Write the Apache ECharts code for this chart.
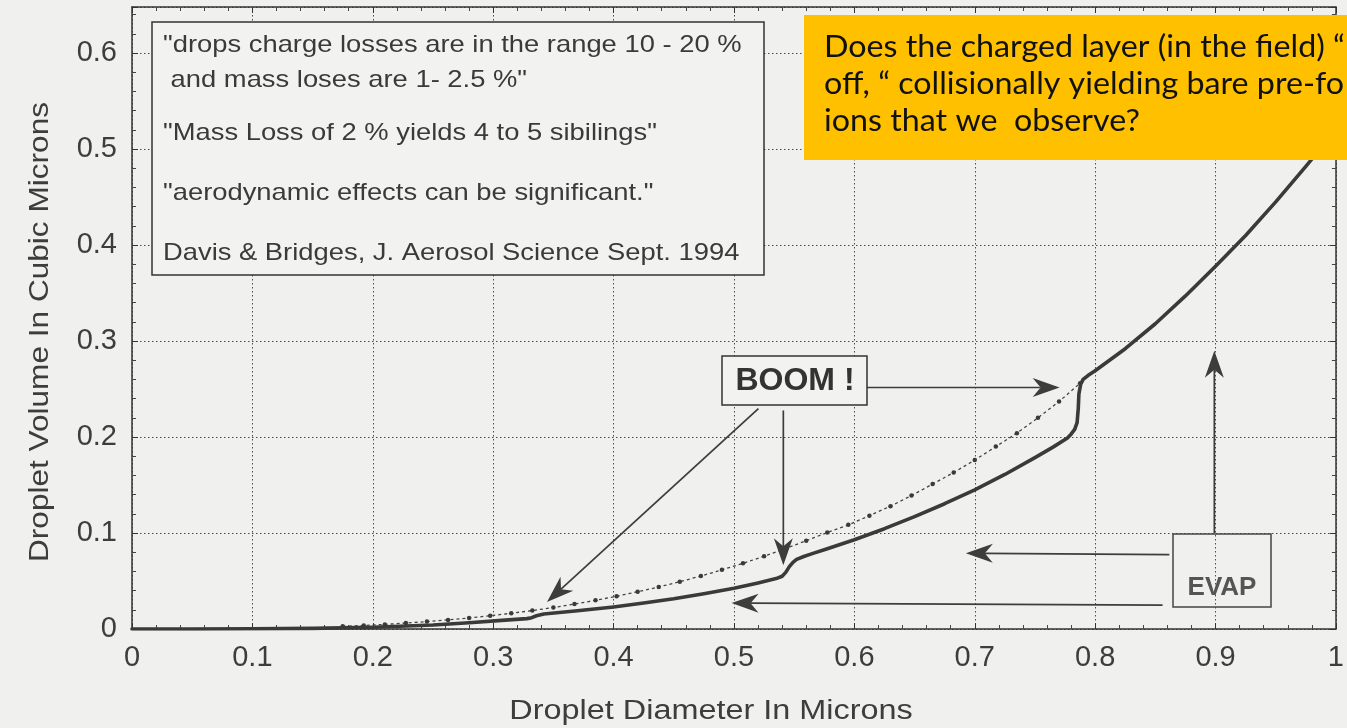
<!DOCTYPE html>
<html>
<head>
<meta charset="utf-8">
<script src="https://cdn.jsdelivr.net/npm/echarts@6/dist/echarts.min.js"></script>
<style>
html,body{margin:0;padding:0;background:#f0f0ee;}
#chart{width:1347px;height:728px;}
</style>
</head>
<body>
<div id="chart"></div>
<script>
// ---- data ----
const xTicks = [0, 0.1, 0.2, 0.3, 0.4, 0.5, 0.6, 0.7, 0.8, 0.9, 1];
const yTicks = [0, 0.1, 0.2, 0.3, 0.4, 0.5, 0.6];

// upper dotted curve (no-fission reference), diameter / volume
const dotD = [0.175, 0.1925, 0.21, 0.2275, 0.245, 0.2625, 0.28, 0.2975, 0.315, 0.3325, 0.35, 0.3675, 0.385, 0.4025, 0.42, 0.4375, 0.455, 0.4725, 0.49, 0.5075, 0.525, 0.5425, 0.56, 0.5775, 0.595, 0.6125, 0.63, 0.6475, 0.665, 0.6825, 0.70, 0.7175, 0.735, 0.7525, 0.77, 0.7875];
const dotV = [0.0028, 0.0037, 0.0048, 0.0062, 0.0077, 0.0095, 0.0115, 0.0138, 0.0164, 0.0192, 0.0224, 0.0260, 0.0299, 0.0341, 0.0388, 0.0438, 0.0493, 0.0552, 0.0616, 0.0684, 0.0758, 0.0836, 0.0920, 0.1005, 0.1085, 0.1180, 0.1280, 0.1390, 0.1510, 0.1630, 0.1760, 0.1900, 0.2040, 0.2200, 0.2370, 0.2560];

// solid curve with fission jumps
const solidD = [0, 0.05, 0.1, 0.15, 0.2, 0.25, 0.28, 0.31, 0.328, 0.332, 0.336, 0.342, 0.355, 0.37, 0.40, 0.425, 0.45, 0.475, 0.50, 0.52, 0.535, 0.540, 0.543, 0.546, 0.549, 0.552, 0.558, 0.565, 0.575, 0.60, 0.625, 0.65, 0.675, 0.70, 0.725, 0.75, 0.765, 0.777, 0.780, 0.783, 0.785, 0.786, 0.7865, 0.788, 0.790, 0.794, 0.80, 0.825, 0.85, 0.875, 0.90, 0.925, 0.95, 0.975, 1.0];
const solidV = [0, 0.0000, 0.0002, 0.0007, 0.0018, 0.0042, 0.0065, 0.0092, 0.0108, 0.0118, 0.0138, 0.0156, 0.0172, 0.0190, 0.0230, 0.0270, 0.0315, 0.0368, 0.0425, 0.0480, 0.0525, 0.0550, 0.0590, 0.0650, 0.0695, 0.0725, 0.0755, 0.0785, 0.0825, 0.0930, 0.1045, 0.1170, 0.1305, 0.1450, 0.1610, 0.1785, 0.1895, 0.1990, 0.2030, 0.2080, 0.2150, 0.2300, 0.2450, 0.2550, 0.2600, 0.2640, 0.2690, 0.2920, 0.3180, 0.3470, 0.3780, 0.4100, 0.4450, 0.4820, 0.5200];

// annotation arrows in data space: from (d,v) to tip (d,v)
const arrowFromD = [0.603, 0.541, 0.5203, 0.899, 0.8616, 0.856];
const arrowFromV = [0.2516, 0.2277, 0.2297, 0.0998, 0.0775, 0.0249];
const arrowToD   = [0.7705, 0.541, 0.3447, 0.899, 0.6926, 0.498];
const arrowToV   = [0.2516, 0.0665, 0.0281, 0.2900, 0.0790, 0.0270];

const quoteLines = [
  '"drops charge losses are in the range 10 - 20 %',
  ' and mass loses are 1- 2.5 %"',
  '"Mass Loss of 2 % yields 4 to 5 sibilings"',
  '"aerodynamic effects can be significant."',
  'Davis & Bridges, J. Aerosol Science Sept. 1994'
];
const questionLines = [
  'Does the charged layer (in the field) \u201c',
  'off, \u201c collisionally yielding bare pre-fo',
  'ions that we  observe?'
];

// ---- build ----
const FONT = 'Liberation Sans, Arial, sans-serif';
const BG = '#f0f0ee';
const INK = '#3a3a3a';
const dotData = dotD.map((d, i) => [d, dotV[i]]);
const solidData = solidD.map((d, i) => [d, solidV[i]]);
const arrowData = arrowFromD.map((d, i) => [d, arrowFromV[i], arrowToD[i], arrowToV[i]]);

const chart = echarts.init(document.getElementById('chart'), null, {renderer: 'canvas'});

const gridLine = {show: true, lineStyle: {color: '#4a4a4a', width: 1, type: [1.5, 2.5]}};
const border = {show: true, onZero: false, lineStyle: {color: '#333', width: 1.5}};
const yFmt = v => {
  const k = Math.round(v * 10);
  if (Math.abs(v * 10 - k) > 1e-6) return '';
  return k === 0 ? '0' : (k / 10).toFixed(1);
};

const quoteY = [45, 80, 133, 193, 253];
const quoteX = [163, 163, 163, 163, 163];
const qY = [47, 84, 121];

const graphics = [
  {type: 'rect', z: 10, shape: {x: 152, y: 22, width: 612, height: 253},
   style: {fill: '#f2f2f0', stroke: '#333', lineWidth: 1.5}},
  ...quoteLines.map((t, i) => ({
    type: 'text', z: 11, x: quoteX[i], y: quoteY[i], scaleX: 1.14,
    style: {text: t, font: '24px ' + FONT, fill: INK, textVerticalAlign: 'middle'}
  })),
  {type: 'rect', z: 100, shape: {x: 804, y: 15, width: 560, height: 145},
   style: {fill: '#FFC000'}},
  ...questionLines.map((t, i) => ({
    type: 'text', z: 101, x: 824, y: qY[i], scaleX: 1.04,
    style: {text: t, font: '31px Lato, "Open Sans", sans-serif', fill: '#111', textVerticalAlign: 'middle'}
  })),
  {type: 'rect', z: 10, shape: {x: 722, y: 356, width: 145, height: 49},
   style: {fill: '#f2f2f0', stroke: '#333', lineWidth: 1.5}},
  {type: 'text', z: 11, x: 795, y: 381,
   style: {text: 'BOOM !', font: 'bold 32px ' + FONT, fill: '#333', textAlign: 'center', textVerticalAlign: 'middle'}},
  {type: 'rect', z: 10, shape: {x: 1173, y: 534, width: 98, height: 73},
   style: {fill: 'none', stroke: '#444', lineWidth: 1.5}},
  {type: 'text', z: 11, x: 1222, y: 588,
   style: {text: 'EVAP', font: 'bold 26px ' + FONT, fill: '#555', textAlign: 'center', textVerticalAlign: 'middle'}},
  {type: 'text', z: 11, x: 711, y: 712, scaleX: 1.2,
   style: {text: 'Droplet Diameter In Microns', font: '27px ' + FONT, fill: '#3d3d3d', textAlign: 'center', textVerticalAlign: 'middle'}},
  {type: 'text', z: 11, x: 41, y: 332, rotation: Math.PI / 2, scaleX: 1.17,
   style: {text: 'Droplet Volume In Cubic Microns', font: '27px ' + FONT, fill: '#3d3d3d', textAlign: 'center', textVerticalAlign: 'middle'}}
];

const option = {
  backgroundColor: BG,
  animation: false,
  grid: {left: 132, right: 8, top: 7, bottom: 99, containLabel: false},
  xAxis: [
    {type: 'value', min: xTicks[0], max: xTicks[xTicks.length - 1], interval: 0.1, position: 'bottom',
     axisLine: border,
     axisTick: {show: true, inside: true, length: 6, lineStyle: {color: '#333'}},
     minorTick: {show: true, splitNumber: 5, length: 4, lineStyle: {color: '#444'}},
     splitLine: gridLine,
     axisLabel: {margin: 14, fontSize: 29, fontFamily: FONT, color: '#3d3d3d'}},
    {type: 'value', min: 0, max: 1, interval: 0.1, position: 'top',
     axisLine: border,
     axisTick: {show: true, inside: true, length: 6, lineStyle: {color: '#333'}},
     minorTick: {show: true, splitNumber: 5, length: 4, lineStyle: {color: '#444'}},
     splitLine: {show: false}, axisLabel: {show: false}}
  ],
  yAxis: [
    {type: 'value', min: yTicks[0], max: 0.648, interval: 0.1, position: 'left',
     axisLine: border,
     axisTick: {show: true, inside: true, length: 6, lineStyle: {color: '#333'}},
     minorTick: {show: true, splitNumber: 5, length: 4, lineStyle: {color: '#444'}},
     splitLine: gridLine,
     axisLabel: {margin: 15, fontSize: 29, fontFamily: FONT, color: '#3d3d3d', formatter: yFmt}},
    {type: 'value', min: 0, max: 0.648, interval: 0.1, position: 'right',
     axisLine: border,
     axisTick: {show: true, inside: true, length: 6, lineStyle: {color: '#333'}},
     minorTick: {show: true, splitNumber: 5, length: 4, lineStyle: {color: '#444'}},
     splitLine: {show: false}, axisLabel: {show: false}}
  ],
  series: [
    {type: 'line', name: 'reference', data: dotData, z: 3,
     symbol: 'circle', symbolSize: 4.5, showSymbol: true,
     itemStyle: {color: '#3a3a3a'},
     lineStyle: {color: '#444', width: 1.3, type: [3, 3]}},
    {type: 'line', name: 'droplet', data: solidData, z: 4,
     symbol: 'none', smooth: false,
     lineStyle: {color: '#3a3a3a', width: 3.6, join: 'round', cap: 'round'}},
    {type: 'custom', name: 'arrows', data: arrowData, z: 5, clip: false, silent: true,
     encode: {x: [0, 2], y: [1, 3]},
     renderItem: function (params, api) {
       const p1 = api.coord([api.value(0), api.value(1)]);
       const p2 = api.coord([api.value(2), api.value(3)]);
       const dx = p2[0] - p1[0], dy = p2[1] - p1[1];
       const L = Math.hypot(dx, dy);
       const ux = dx / L, uy = dy / L, nx = -uy, ny = ux;
       const len = 27, hw = 9.5, notch = 8;
       const bx = p2[0] - ux * len, by = p2[1] - uy * len;
       const mx = p2[0] - ux * (len - notch), my = p2[1] - uy * (len - notch);
       return {type: 'group', children: [
         {type: 'line', shape: {x1: p1[0], y1: p1[1], x2: mx, y2: my},
          style: {stroke: '#3d3d3d', lineWidth: 1.7}},
         {type: 'polygon', shape: {points: [p2, [bx + nx * hw, by + ny * hw], [mx, my], [bx - nx * hw, by - ny * hw]]},
          style: {fill: '#3d3d3d'}}
       ]};
     }}
  ],
  graphic: graphics
};
chart.setOption(option);
</script>
</body>
</html>
